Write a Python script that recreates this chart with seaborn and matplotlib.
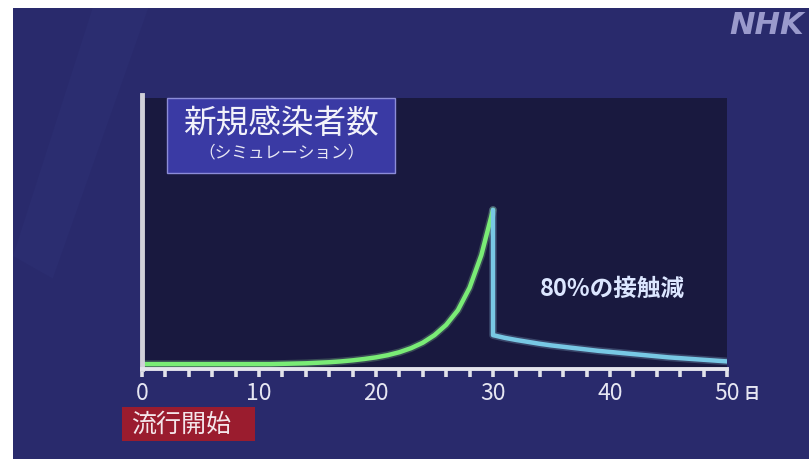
import matplotlib
matplotlib.use("Agg")
import matplotlib.pyplot as plt
from matplotlib.patches import Rectangle
import seaborn as sns
import pandas as pd

# Simulated daily new infections (arbitrary units)
growth_days = list(range(0, 31))
growth_values = [1.8, 1.8, 1.8, 1.8, 1.8, 1.8, 1.8, 1.8, 1.8, 1.8, 1.8,
                 1.8, 1.9, 2.0, 2.1, 2.3, 2.5, 2.8, 3.2, 3.7, 4.3,
                 5.1, 6.2, 7.7, 9.7, 12.5, 16.3, 21.7, 30.0, 42.0, 58.7]

# After contacts are cut by 80% on day 30
reduced_days = [30, 30, 31, 32, 33, 34, 35, 36, 37, 38, 39, 40,
                41, 42, 43, 44, 45, 46, 47, 48, 49, 50]
reduced_values = [58.7, 12.5, 11.5, 10.7, 10.0, 9.3, 8.7, 8.2, 7.7, 7.2, 6.7, 6.3,
                  5.9, 5.5, 5.1, 4.7, 4.3, 4.0, 3.7, 3.4, 3.1, 2.8]

x_ticks = list(range(0, 51, 2))
x_labels = ["0" if d == 0 else (str(d) if d % 10 == 0 else "") for d in x_ticks]

title_main = "新規感染者数"
title_sub = "（シミュレーション）"
note_text = "80%の接触減"
start_text = "流行開始"
day_unit = "日"

sns.set_style("dark")
plt.rcParams["font.family"] = ["Noto Sans CJK JP", "DejaVu Sans"]

W, H = 809, 459
fig = plt.figure(figsize=(W / 100, H / 100), dpi=100, facecolor="white")

# navy broadcast background (white margin on top/left)
bg = fig.add_axes([13 / W, 0, 1 - 13 / W, 1 - 8 / H])
bg.set_axis_off()
bg.add_patch(Rectangle((0, 0), 1, 1, transform=bg.transAxes, color="#292a6c"))
bg.add_patch(plt.Polygon([(0.0, 0.45), (0.1, 1.0), (0.17, 1.0), (0.05, 0.4)],
                         closed=True, transform=bg.transAxes, color="#2b2d70", lw=0))

ax = fig.add_axes([142 / W, 1 - 369 / H, (727 - 142) / W, (369 - 98) / H])
ax.set_facecolor("#19193f")

growth = pd.DataFrame({"day": growth_days, "cases": growth_values})
reduced = pd.DataFrame({"day": reduced_days, "cases": reduced_values})

line_kw = dict(ax=ax, sort=False, estimator=None, legend=False)
# light halo under each line
sns.lineplot(data=growth, x="day", y="cases", color="#a8ffa4",
             lw=5.5, alpha=0.22, **line_kw)
sns.lineplot(data=reduced, x="day", y="cases", color="#a8e4ff",
             lw=5.5, alpha=0.22, **line_kw)
sns.lineplot(data=growth, x="day", y="cases", color="#7aec76",
             lw=3.2, **line_kw)
sns.lineplot(data=reduced, x="day", y="cases", color="#78c8e4",
             lw=3.2, **line_kw)

ax.set_xlim(0, 50)
ax.set_ylim(0, 100)
ax.set_xlabel("")
ax.set_ylabel("")
ax.set_yticks([])
ax.set_xticks(x_ticks)
ax.set_xticklabels(x_labels)
ax.tick_params(axis="x", direction="out", length=5.5, width=2.6,
               color="#e2e2ea", labelcolor="#e6e6f2", labelsize=16.5, pad=4,
               bottom=True)
ax.grid(False)
for side in ("top", "right"):
    ax.spines[side].set_visible(False)
ax.spines["bottom"].set_color("#e4e4ec")
ax.spines["bottom"].set_linewidth(2.8)
ax.spines["left"].set_color("#d0d0d8")
ax.spines["left"].set_linewidth(3.5)
ax.spines["left"].set_bounds(0, 101)

ax.annotate(day_unit, xy=(50, 0), xycoords="data", xytext=(18, -18),
            textcoords="offset points", ha="center", va="center",
            fontsize=11.5, fontweight="bold", color="#e6e6f2",
            annotation_clip=False)

# title box
fig.patches.append(Rectangle((167 / W, 1 - 173 / H), (395 - 167) / W, (173 - 98) / H,
                             transform=fig.transFigure, facecolor="#3a3aa4",
                             edgecolor="#8c8cd8", lw=1.0, zorder=5))
fig.text(281 / W, 1 - 124 / H, title_main, ha="center", va="center",
         fontsize=23.5, color="#f2f2fa", zorder=6)
fig.text(281 / W, 1 - 153 / H, title_sub, ha="center", va="center",
         fontsize=12, color="#e8e8f4", zorder=6)

# annotation for the contact reduction
fig.text(612 / W, 1 - 289 / H, note_text, ha="center", va="center",
         fontsize=17, fontweight="bold", color="#dce6ff", zorder=6)

# outbreak start label
fig.patches.append(Rectangle((122 / W, 1 - 441 / H), (255 - 122) / W, (441 - 407) / H,
                             transform=fig.transFigure, facecolor="#9a1c2e",
                             edgecolor="none", zorder=5))
fig.text(181 / W, 1 - 425 / H, start_text, ha="center", va="center",
         fontsize=18, color="#f4e6ea", zorder=6)

# broadcaster mark
fig.text(729 / W, 1 - 25 / H, "NHK", ha="left", va="center", fontsize=22,
         fontweight="bold", fontstyle="italic", color="#9a9acc",
         family="DejaVu Sans")

fig.savefig("out.png", dpi=100, facecolor="white")
